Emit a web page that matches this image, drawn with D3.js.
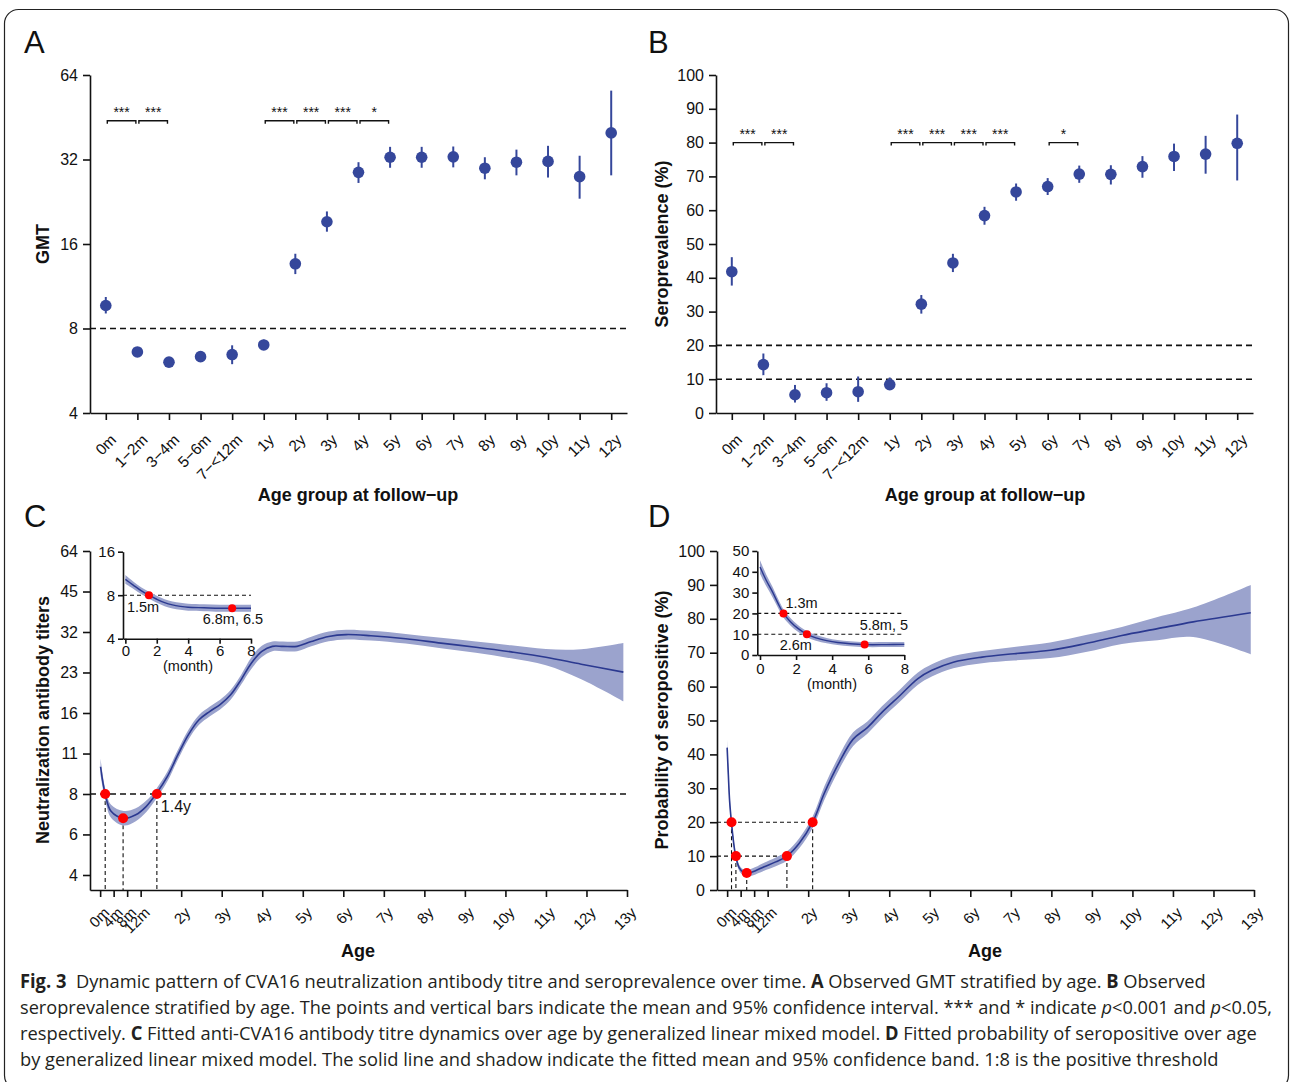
<!DOCTYPE html>
<html>
<head>
<meta charset="utf-8">
<script src="https://cdn.jsdelivr.net/npm/d3@7"></script>
<style>
body { margin: 0; background: #fff; }
svg text { font-family: "Liberation Sans", Arial, sans-serif; fill: #111; }
</style>
</head>
<body>
<script>
// observed values per age group (panels A and B)
const ageGroups = ['0m', '1−2m', '3−4m', '5−6m', '7−<12m', '1y', '2y', '3y', '4y', '5y', '6y', '7y', '8y', '9y', '10y', '11y', '12y'];
const gmtMean = [9.66, 6.6, 6.07, 6.35, 6.46, 6.99, 13.6, 19.2, 28.8, 32.6, 32.6, 32.7, 29.8, 31.3, 31.5, 27.8, 39.8];
const gmtLow = [9.05, 6.45, 5.95, 6.13, 5.97, 6.75, 12.5, 17.7, 26.4, 29.9, 29.9, 30.0, 27.2, 28.1, 27.6, 23.2, 28.1];
const gmtHigh = [10.36, 6.75, 6.2, 6.6, 6.97, 7.3, 14.77, 20.9, 31.3, 35.5, 35.5, 35.6, 32.6, 34.7, 35.8, 33.0, 56.3];
const seroMean = [41.8, 14.3, 5.4, 6.0, 6.3, 8.4, 32.2, 44.4, 58.4, 65.4, 67.0, 70.7, 70.6, 72.9, 75.9, 76.6, 79.8];
const seroLow = [37.7, 11.2, 3.1, 3.6, 3.3, 6.8, 29.4, 41.7, 55.7, 62.8, 64.5, 68.1, 67.6, 69.6, 71.6, 70.8, 68.8];
const seroHigh = [46.1, 17.6, 8.3, 8.8, 10.8, 10.5, 34.9, 47.1, 61.0, 67.9, 69.5, 73.2, 73.3, 76.0, 79.7, 82.0, 88.3];

// significance brackets: [from, to, label]
const gmtPairs = [['0m', '1−2m', '***'], ['1−2m', '3−4m', '***'], ['1y', '2y', '***'], ['2y', '3y', '***'], ['3y', '4y', '***'], ['4y', '5y', '*']];
const seroPairs = [['0m', '1−2m', '***'], ['1−2m', '3−4m', '***'], ['1y', '2y', '***'], ['2y', '3y', '***'], ['3y', '4y', '***'], ['4y', '5y', '***'], ['6y', '7y', '*']];

const gmtTicks = [4, 8, 16, 32, 64];
const seroTicks = [0, 10, 20, 30, 40, 50, 60, 70, 80, 90, 100];

// fitted titre over age (panel C), years
const fitAge = [0.01, 0.125, 0.27, 0.58, 0.88, 1.14, 1.38, 1.66, 1.92, 2.18, 2.44, 2.70, 2.96, 3.22, 3.48, 3.73, 3.99, 4.25, 4.51, 4.86, 5.21, 5.64, 6.07, 6.68, 7.54, 8.41, 9.27, 10.14, 11.0, 11.87, 12.91];
const fitTitre = [10.1, 8.0, 6.9, 6.5, 6.7, 7.2, 8.0, 9.3, 11.2, 13.3, 15.1, 16.2, 17.2, 18.7, 21.3, 24.5, 27.1, 28.3, 28.3, 28.3, 29.5, 30.8, 31.3, 31.0, 30.2, 29.1, 28.1, 27.0, 25.8, 24.3, 22.7];
const fitTitreLow = [9.42, 7.62, 6.53, 6.11, 6.34, 6.86, 7.67, 8.92, 10.74, 12.76, 14.48, 15.54, 16.50, 17.94, 20.43, 23.34, 25.82, 27.15, 27.15, 27.15, 28.30, 29.54, 30.02, 29.74, 28.97, 27.82, 26.77, 25.54, 24.07, 21.37, 17.69];
const fitTitreHigh = [10.83, 8.40, 7.29, 6.92, 7.08, 7.56, 8.34, 9.70, 11.68, 13.87, 15.74, 16.89, 17.93, 19.50, 22.21, 25.72, 28.45, 29.50, 29.50, 29.50, 30.75, 32.11, 32.63, 32.32, 31.48, 30.44, 29.50, 28.54, 27.65, 27.63, 29.13];

// fitted probability of seropositive over age (panel D), years
const probAge = [0.0, 0.03, 0.06, 0.106, 0.16, 0.212, 0.30, 0.40, 0.48, 0.70, 0.90, 1.20, 1.475, 1.78, 2.11, 2.40, 2.76, 3.11, 3.46, 3.82, 4.26, 4.70, 5.05, 5.58, 6.29, 7.08, 7.97, 8.85, 9.74, 10.62, 11.5, 12.92];
const probMean = [42.0, 34.0, 26.5, 20.0, 14.0, 10.0, 6.5, 5.2, 4.9, 5.7, 6.8, 8.3, 10.0, 13.8, 20.0, 28.6, 37.5, 44.5, 47.9, 52.4, 57.3, 62.3, 64.8, 67.2, 68.7, 69.7, 70.7, 72.7, 75.1, 77.1, 79.1, 81.8];
const probLow = [39.5, 32.0, 25.0, 18.8, 13.0, 9.0, 5.6, 4.3, 3.9, 4.6, 5.6, 7.0, 8.6, 12.3, 18.3, 26.6, 35.5, 42.5, 46.1, 50.6, 55.5, 60.5, 63.0, 65.4, 66.9, 67.7, 68.4, 70.2, 72.6, 73.7, 74.6, 69.5];
const probHigh = [44.5, 36.0, 28.0, 21.2, 15.0, 11.0, 7.4, 6.1, 5.9, 6.8, 8.0, 9.6, 11.4, 15.3, 21.7, 30.6, 39.5, 46.5, 49.7, 54.2, 59.1, 64.1, 66.6, 69.0, 70.5, 71.7, 73.0, 75.2, 77.6, 80.5, 83.3, 90.0];

const titreTicks = [4, 5.66, 8, 11.31, 16, 22.63, 32, 45.25, 64];
const titreTickLabels = ['4', '6', '8', '11', '16', '23', '32', '45', '64'];
const probTicks = [0, 10, 20, 30, 40, 50, 60, 70, 80, 90, 100];
const ageTicks = [0, 1 / 3, 2 / 3, 1, 2, 3, 4, 5, 6, 7, 8, 9, 10, 11, 12, 13];
const ageTickLabels = ['0m', '4m', '8m', '12m', '2y', '3y', '4y', '5y', '6y', '7y', '8y', '9y', '10y', '11y', '12y', '13y'];

// insets, months
const insetMonthC = [0, 0.5, 1, 1.5, 2, 2.5, 3, 3.5, 4, 5, 6, 6.8, 8];
const insetTitre = [10.3, 9.4, 8.6, 8.0, 7.5, 7.1, 6.85, 6.7, 6.6, 6.55, 6.5, 6.5, 6.5];
const insetTitreLow = [9.61, 8.87, 8.14, 7.57, 7.10, 6.72, 6.48, 6.34, 6.24, 6.20, 6.15, 6.15, 6.15];
const insetTitreHigh = [11.04, 9.96, 9.09, 8.46, 7.93, 7.50, 7.24, 7.08, 6.98, 6.92, 6.87, 6.87, 6.87];
const insetMonthD = [0, 0.35, 0.7, 1.0, 1.3, 1.7, 2.1, 2.6, 3.1, 3.7, 4.3, 5.0, 5.8, 7.0, 8];
const insetProb = [42.3, 35.8, 30.2, 24.8, 20, 15.9, 12.8, 10, 8.2, 6.9, 6.0, 5.4, 5.0, 5.0, 5.1];
const insetProbLow = [39.1, 33.0, 27.7, 22.6, 18.0, 14.1, 11.2, 8.5, 6.8, 5.6, 4.8, 4.2, 3.8, 3.8, 3.9];
const insetProbHigh = [45.5, 38.6, 32.7, 27.0, 22.0, 17.7, 14.4, 11.5, 9.6, 8.2, 7.2, 6.6, 6.2, 6.2, 6.3];

// key points on the fitted curves
const titreMarksAge = [1.5 / 12, 6.8 / 12, 1.4];
const titreMarksVal = [8, 6.5, 8];
const probMarksAge = [1.3 / 12, 2.6 / 12, 5.8 / 12, 1.475, 2.11];
const probMarksVal = [20, 10, 5, 10, 20];

const pointColor = '#35479b';
const lineColor = '#2b3990';
const bandColor = '#9ba3cd';

const svg = d3.select('body').append('svg')
	.attr('width', 1290)
	.attr('height', 1082);

svg.append('rect')
	.attr('x', 4.5).attr('y', 9.5)
	.attr('width', 1284).attr('height', 1080)
	.attr('rx', 14)
	.attr('fill', 'none')
	.attr('stroke', '#222')
	.attr('stroke-width', 1.2);

function styleAxis(g, fontSize) {
	g.select('.domain').attr('stroke', '#111').attr('stroke-width', 1.6);
	g.selectAll('.tick line').attr('stroke', '#111').attr('stroke-width', 1.6);
	g.selectAll('.tick text').style('font-size', fontSize + 'px').attr('fill', '#111');
}

function rotateLabels(g, dx, dy) {
	g.selectAll('.tick text')
		.attr('x', 0).attr('y', 0).attr('dy', '0.35em')
		.attr('text-anchor', 'end')
		.attr('transform', `translate(${dx},${dy}) rotate(-45)`);
}

function letter(t, x, y) {
	svg.append('text').attr('x', x).attr('y', y).style('font-size', '31px').text(t);
}

function yTitle(t, x, y) {
	svg.append('text')
		.attr('transform', `translate(${x},${y}) rotate(-90)`)
		.attr('text-anchor', 'middle')
		.style('font-size', '18px').style('font-weight', 'bold')
		.text(t);
}

function xTitle(t, x, y) {
	svg.append('text').attr('x', x).attr('y', y)
		.attr('text-anchor', 'middle')
		.style('font-size', '18px').style('font-weight', 'bold')
		.text(t);
}

// panels A and B: means with 95% CI per age group
function observedPanel(left, right, y, mean, low, high, pairs, pairVal, refVals, yAxis) {
	const x = d3.scalePoint().domain(ageGroups).range([left, right]).padding(0.5);
	const g = svg.append('g');

	refVals.forEach(v => {
		g.append('line')
			.attr('x1', left).attr('x2', right)
			.attr('y1', y(v)).attr('y2', y(v))
			.attr('stroke', '#111').attr('stroke-width', 1.6)
			.attr('stroke-dasharray', '6,4');
	});

	g.selectAll('.ci')
		.data(ageGroups)
		.enter()
		.append('line')
		.attr('x1', d => x(d)).attr('x2', d => x(d))
		.attr('y1', (d, i) => y(low[i])).attr('y2', (d, i) => y(high[i]))
		.attr('stroke', pointColor).attr('stroke-width', 2);

	g.selectAll('.pt')
		.data(ageGroups)
		.enter()
		.append('circle')
		.attr('cx', d => x(d))
		.attr('cy', (d, i) => y(mean[i]))
		.attr('r', 5.8)
		.attr('fill', pointColor);

	// brackets with stars
	const by = y(pairVal);
	pairs.forEach(p => {
		const x1 = x(p[0]) + 1.5, x2 = x(p[1]) - 1.5;
		g.append('path')
			.attr('d', `M${x1},${by + 3}V${by}H${x2}V${by + 3}`)
			.attr('fill', 'none').attr('stroke', '#111').attr('stroke-width', 1.4);
		g.append('text')
			.attr('x', (x1 + x2) / 2).attr('y', by - 4)
			.attr('text-anchor', 'middle')
			.style('font-size', '14px')
			.text(p[2]);
	});

	const ya = g.append('g').attr('transform', `translate(${left},0)`).call(yAxis);
	styleAxis(ya, 16);
	const bottom = y.range()[0];
	const xa = g.append('g').attr('transform', `translate(0,${bottom})`)
		.call(d3.axisBottom(x).tickSize(7).tickSizeOuter(0));
	styleAxis(xa, 15.5);
	rotateLabels(xa, 7, 24);
}

// panel A
const yA = d3.scaleLog().base(2).domain([4, 64]).range([413, 75]);
observedPanel(90, 627, yA, gmtMean, gmtLow, gmtHigh, gmtPairs, 44, [8],
	d3.axisLeft(yA).tickValues(gmtTicks).tickFormat(d3.format('d')).tickSize(7).tickPadding(5).tickSizeOuter(0));
letter('A', 24, 53);
yTitle('GMT', 49, 244);
xTitle('Age group at follow−up', 358, 501);

// panel B
const yB = d3.scaleLinear().domain([0, 100]).range([413, 75]);
observedPanel(716, 1253, yB, seroMean, seroLow, seroHigh, seroPairs, 80, [20, 10],
	d3.axisLeft(yB).tickValues(seroTicks).tickSize(7).tickPadding(5).tickSizeOuter(0));
letter('B', 648, 53);
yTitle('Seroprevalence (%)', 668, 244);
xTitle('Age group at follow−up', 985, 501);

// fitted curve with band
function fitted(g, x, y, xs, mean, low, high, w) {
	const area = d3.area()
		.x((d, i) => x(xs[i]))
		.y0((d, i) => y(low[i]))
		.y1((d, i) => y(high[i]))
		.curve(d3.curveCatmullRom);
	const line = d3.line()
		.x((d, i) => x(xs[i]))
		.y(d => y(d))
		.curve(d3.curveCatmullRom);
	g.append('path').datum(mean).attr('d', area).attr('fill', bandColor).attr('stroke', 'none');
	g.append('path').datum(mean).attr('d', line).attr('fill', 'none').attr('stroke', lineColor).attr('stroke-width', w);
}

function redDots(g, x, y, xs, vs, r) {
	g.selectAll(null)
		.data(xs)
		.enter()
		.append('circle')
		.attr('cx', d => x(d))
		.attr('cy', (d, i) => y(vs[i]))
		.attr('r', r)
		.attr('fill', '#ff0000');
}

function dashed(g, x1, y1, x2, y2) {
	g.append('line')
		.attr('x1', x1).attr('y1', y1).attr('x2', x2).attr('y2', y2)
		.attr('stroke', '#111').attr('stroke-width', 1.1)
		.attr('stroke-dasharray', '4,3');
}

function ageAxis(g, x, bottom) {
	const xa = g.append('g').attr('transform', `translate(0,${bottom})`)
		.call(d3.axisBottom(x).tickValues(ageTicks).tickFormat((d, i) => ageTickLabels[i]).tickSize(7).tickSizeOuter(0));
	styleAxis(xa, 15);
	rotateLabels(xa, 6, 20);
}

// panel C
const xC = d3.scaleLinear().domain([-0.25, 13]).range([90, 627]);
const yC = d3.scaleLog().base(2).domain([4 * Math.pow(2, -15 / 81), 64]).range([890, 551]);
const gC = svg.append('g');
dashed(gC, 90, yC(8), 627, yC(8));
gC.selectAll('line').attr('stroke-width', 1.5).attr('stroke-dasharray', '6,4');
titreMarksAge.forEach((a, i) => dashed(gC, xC(a), yC(titreMarksVal[i]), xC(a), 890));
fitted(gC, xC, yC, fitAge, fitTitre, fitTitreLow, fitTitreHigh, 1.6);
redDots(gC, xC, yC, titreMarksAge, titreMarksVal, 5);
gC.append('text').attr('x', xC(1.4) + 4).attr('y', yC(8) + 18).style('font-size', '16px').text('1.4y');
const yCa = gC.append('g').attr('transform', 'translate(90,0)')
	.call(d3.axisLeft(yC).tickValues(titreTicks).tickFormat((d, i) => titreTickLabels[i]).tickSize(7).tickPadding(5).tickSizeOuter(0));
styleAxis(yCa, 16);
ageAxis(gC, xC, 890);
letter('C', 24, 527);
yTitle('Neutralization antibody titers', 49, 720);
xTitle('Age', 358, 957);

// inset C
const xCi = d3.scaleLinear().domain([-0.15, 8]).range([123, 251]);
const yCi = d3.scaleLog().base(2).domain([4, 16]).range([638.7, 551.7]);
const gCi = svg.append('g');
dashed(gCi, 123, yCi(8), 251, yCi(8));
fitted(gCi, xCi, yCi, insetMonthC, insetTitre, insetTitreLow, insetTitreHigh, 1.4);
redDots(gCi, xCi, yCi, [1.5, 6.8], [8, 6.5], 4);
gCi.append('text').attr('x', xCi(1.5) - 22).attr('y', yCi(8) + 17).style('font-size', '14.5px').text('1.5m');
gCi.append('text').attr('x', xCi(6.8) + 31).attr('y', yCi(6.5) + 16).attr('text-anchor', 'end').style('font-size', '14.5px').text('6.8m, 6.5');
const yCia = gCi.append('g').attr('transform', 'translate(123,0)')
	.call(d3.axisLeft(yCi).tickValues([4, 8, 16]).tickFormat(d3.format('d')).tickSize(5).tickPadding(3).tickSizeOuter(0));
styleAxis(yCia, 15);
const xCia = gCi.append('g').attr('transform', 'translate(0,638.7)')
	.call(d3.axisBottom(xCi).tickValues([0, 2, 4, 6, 8]).tickSize(5).tickPadding(2).tickSizeOuter(0));
styleAxis(xCia, 15);
gCi.append('text').attr('x', 188).attr('y', 671).attr('text-anchor', 'middle').style('font-size', '14.5px').text('(month)');

// panel D
const xD = d3.scaleLinear().domain([-0.25, 13]).range([717, 1254]);
const yD = d3.scaleLinear().domain([0, 100]).range([890, 551]);
const gD = svg.append('g');
probMarksAge.forEach((a, i) => {
	dashed(gD, xD(a), yD(probMarksVal[i]), xD(a), 890);
});
dashed(gD, 717, yD(20), xD(2.11), yD(20));
dashed(gD, 717, yD(10), xD(1.475), yD(10));
fitted(gD, xD, yD, probAge, probMean, probLow, probHigh, 1.6);
redDots(gD, xD, yD, probMarksAge, probMarksVal, 5);
const yDa = gD.append('g').attr('transform', 'translate(717,0)')
	.call(d3.axisLeft(yD).tickValues(probTicks).tickSize(7).tickPadding(5).tickSizeOuter(0));
styleAxis(yDa, 16);
ageAxis(gD, xD, 890);
letter('D', 648, 527);
yTitle('Probability of seropositive (%)', 668, 720);
xTitle('Age', 985, 957);

// inset D
const xDi = d3.scaleLinear().domain([-0.15, 8]).range([757.3, 904.3]);
const yDi = d3.scaleLinear().domain([0, 50]).range([655, 551]);
const gDi = svg.append('g');
dashed(gDi, 757.3, yDi(20), 904.3, yDi(20));
dashed(gDi, 757.3, yDi(10), 904.3, yDi(10));
fitted(gDi, xDi, yDi, insetMonthD, insetProb, insetProbLow, insetProbHigh, 1.4);
redDots(gDi, xDi, yDi, [1.3, 2.6, 5.8], [20, 10, 5], 4);
gDi.append('text').attr('x', xDi(1.3) + 2).attr('y', yDi(20) - 5).style('font-size', '14.5px').text('1.3m');
gDi.append('text').attr('x', xDi(2.6) + 5).attr('y', yDi(10) + 16).attr('text-anchor', 'end').style('font-size', '14.5px').text('2.6m');
gDi.append('text').attr('x', 908).attr('y', yDi(5) - 15).attr('text-anchor', 'end').style('font-size', '14.5px').text('5.8m, 5');
const yDia = gDi.append('g').attr('transform', 'translate(757.3,0)')
	.call(d3.axisLeft(yDi).tickValues([0, 10, 20, 30, 40, 50]).tickSize(5).tickPadding(3).tickSizeOuter(0));
styleAxis(yDia, 15);
const xDia = gDi.append('g').attr('transform', 'translate(0,655)')
	.call(d3.axisBottom(xDi).tickValues([0, 2, 4, 6, 8]).tickSize(5).tickPadding(3).tickSizeOuter(0));
styleAxis(xDia, 15);
gDi.append('text').attr('x', 832).attr('y', 689).attr('text-anchor', 'middle').style('font-size', '14.5px').text('(month)');

// caption, squeezed horizontally to the width of the printed lines
const captionLines = [
	[['Fig. 3', 'b'], ['  Dynamic pattern of CVA16 neutralization antibody titre and seroprevalence over time. ', ''], ['A', 'b'], [' Observed GMT stratified by age. ', ''], ['B', 'b'], [' Observed', '']],
	[['seroprevalence stratified by age. The points and vertical bars indicate the mean and 95% confidence interval. *** and * indicate ', ''], ['p', 'i'], ['<0.001 and ', ''], ['p', 'i'], ['<0.05,', '']],
	[['respectively. ', ''], ['C', 'b'], [' Fitted anti-CVA16 antibody titre dynamics over age by generalized linear mixed model. ', ''], ['D', 'b'], [' Fitted probability of seropositive over age', '']],
	[['by generalized linear mixed model. The solid line and shadow indicate the fitted mean and 95% confidence band. 1:8 is the positive threshold', '']]
];
const captionWidths = [1187, 1253, 1237, 1200];
captionLines.forEach((parts, i) => {
	const t = svg.append('text')
		.attr('x', 0).attr('y', 0)
		.style('font-family', '"Open Sans", "Noto Sans", sans-serif')
		.style('font-size', '19px')
		.style('white-space', 'pre')
		.style('fill', '#231f20');
	parts.forEach(p => {
		t.append('tspan')
			.style('font-weight', p[1] === 'b' ? 'bold' : 'normal')
			.style('font-style', p[1] === 'i' ? 'italic' : 'normal')
			.text(p[0]);
	});
	const natural = t.node().getComputedTextLength();
	t.attr('transform', `translate(20,${988 + i * 26}) scale(${captionWidths[i] / natural},1)`);
});
</script>
</body>
</html>
